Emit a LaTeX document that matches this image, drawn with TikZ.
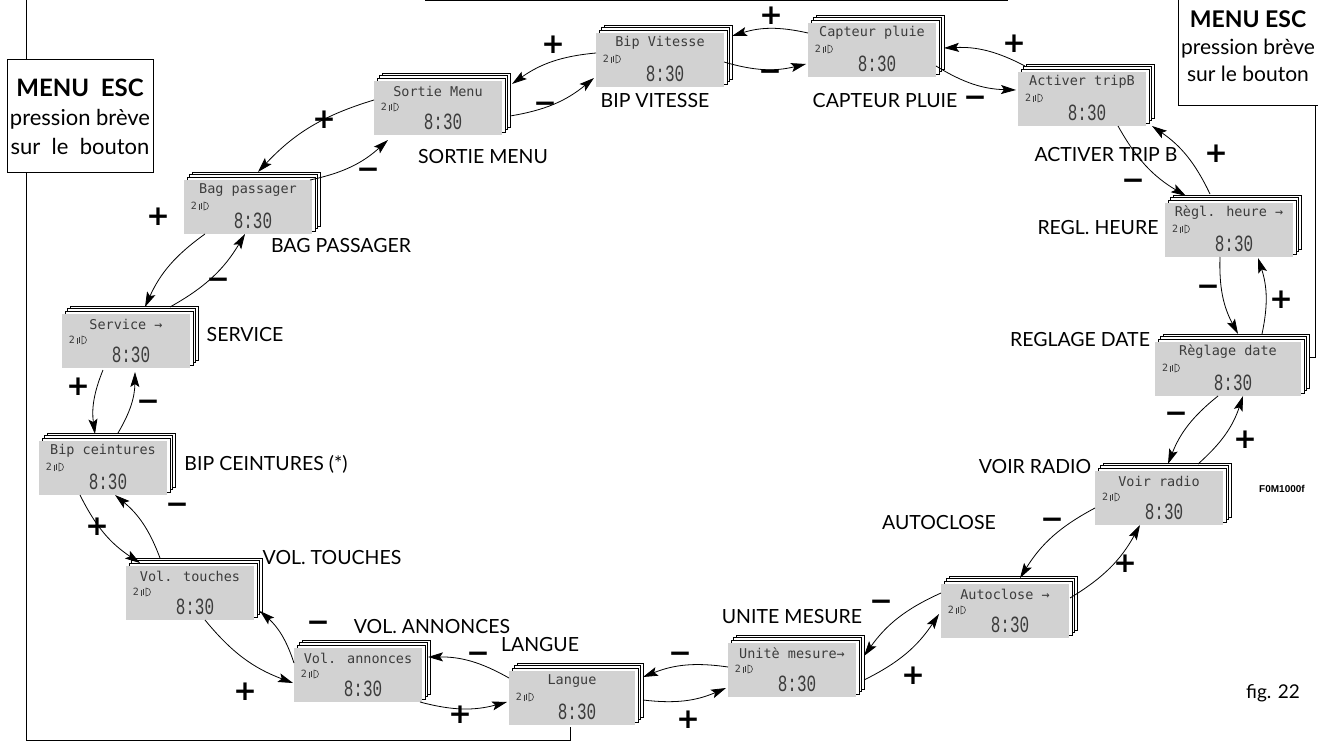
\documentclass[tikz,border=0pt]{standalone}
\usepackage{fontspec}
\setmainfont{Lato}
\newfontfamily\lcdfont{DejaVu Sans Mono}
\newfontfamily\clockfont{Liberation Mono}
\newfontfamily\signfont{DejaVu Sans}
\newfontfamily\codefont{Liberation Sans}
\usetikzlibrary{arrows.meta,calc}
\definecolor{lcdgray}{RGB}{210,210,210}
\definecolor{lcdink}{RGB}{60,60,60}
\tikzset{
  lbl/.style={font=\fontsize{19.5}{22}\selectfont, inner sep=0},
  esc/.style={font=\fontsize{22}{29}\selectfont, inner sep=0},
  sgn/.style={font=\signfont\bfseries\fontsize{28}{28}\selectfont, inner sep=0},
  lcdbox/.style={fill=lcdgray, minimum height=54pt, inner sep=0},
  layer/.style={draw=black, fill=white, line width=0.7pt},
  lcdl/.style={font=\lcdfont\fontsize{13.5}{14}\selectfont, text=lcdink, inner sep=0},
  lcdsm/.style={font=\lcdfont\fontsize{10}{10}\selectfont, text=lcdink, inner sep=0},
  lcdt/.style={font=\clockfont\fontsize{16}{16}\selectfont, text=lcdink, inner sep=0, yscale=1.45, transform shape},
  icon/.style={draw=lcdink, line width=0.6pt},
  arr/.style={-{Stealth[length=15pt,width=9pt,inset=3pt]}, line width=0.8pt},
  frame/.style={line width=1pt},
}
\newcommand\lcdunit[5]{%
  \pgfmathsetmacro\lx{#2-#5/2}%
  \foreach \o in {8,5.5,3}{\draw[layer] ({\lx+\o},{#3-27-\o}) rectangle ({\lx+#5+\o},{#3+27-\o});}
  \node[lcdbox, minimum width=#5pt] (#1) at (#2,#3) {};
  \node[lcdl] (#1-t) at (#2,#3-17) {#4};
  \node[lcdsm] (#1-n) at (\lx+10,#3-1) {2};
  \draw[icon] (\lx+20,#3-5) .. controls (\lx+26,#3-5) and (\lx+26,#3+3) .. (\lx+20,#3+3) -- cycle;
  \draw[icon] (\lx+17,#3-4) -- (\lx+17,#3+2) (\lx+15,#3-3) -- (\lx+15,#3+3);
  \node[lcdt] (#1-c) at (#2+5,#3+14) {8:30};
}
\begin{document}
\begin{tikzpicture}[x=1pt,y=-1pt]
\useasboundingbox (0,0) rectangle (1318,741);
\clip (0,0) rectangle (1318,741);

% frame lines
\draw[frame] (425,1) -- (1008,1);
\node[draw, line width=1pt, minimum width=146pt, minimum height=113pt, inner sep=0] (escL) at (80,116.5) {};
\node[esc, align=center] (escLt) at (80,117) {{\bfseries\fontsize{24}{29}\selectfont MENU\ \ ESC}\\pression brève\\sur\ \ le\ \ bouton};
\coordinate (topL) at (26,0);
\draw[frame] (topL) -- (topL |- escL.north);
\draw[frame] (topL |- escL.south) -- (26,740) -| (570,727);

\draw[frame, fill=white] (1178,-10) rectangle (1330,106);
\node[esc, align=center, font=\fontsize{21}{27}\selectfont] (escRt) at (1248,46) {{\bfseries\fontsize{23}{27}\selectfont MENU ESC}\\pression brève\\sur le bouton};
\draw[frame] (1315,106) -- (1315,357) -- (1309,357);

% displays
\lcdunit{S}{438}{108}{Sortie Menu}{128}
\lcdunit{B}{660}{60}{Bip Vitesse}{128}
\lcdunit{C}{872}{50}{Capteur pluie}{128}
\lcdunit{A}{1082}{99}{Activer tripB}{128}
\lcdunit{H}{1229}{230}{Règl. heure →}{128}
\lcdunit{D}{1228}{369}{Règlage date}{146}
\lcdunit{R}{1159}{498}{Voir radio}{128}
\lcdunit{X}{1005}{611}{Autoclose →}{128}
\lcdunit{U}{792}{670}{Unitè mesure→}{128}
\lcdunit{L}{572}{698}{Langue}{126}
\lcdunit{N}{358}{675}{Vol. annonces}{128}
\lcdunit{T}{190}{593}{Vol. touches}{128}
\lcdunit{I}{103}{468}{Bip ceintures}{128}
\lcdunit{V}{126}{341}{Service →}{128}
\lcdunit{G}{248}{207}{Bag passager}{128}

% labels
\node[lbl] (lS) at (483,157) {SORTIE MENU};
\node[lbl] (lB) at (655,101) {BIP VITESSE};
\node[lbl] (lC) at (885,101) {CAPTEUR PLUIE};
\node[lbl] (lA) at (1106,155) {ACTIVER TRIP B};
\node[lbl] (lH) at (1098,228) {REGL. HEURE};
\node[lbl] (lD) at (1080,340) {REGLAGE DATE};
\node[lbl] (lR) at (1035,467) {VOIR RADIO};
\node[lbl] (lX) at (939,523) {AUTOCLOSE};
\node[lbl] (lU) at (792,617) {UNITE MESURE};
\node[lbl] (lL) at (540,645) {LANGUE};
\node[lbl] (lN) at (432,627) {VOL. ANNONCES};
\node[lbl] (lT) at (332,558) {VOL. TOUCHES};
\node[lbl] (lI) at (266,464) {BIP CEINTURES (*)};
\node[lbl] (lV) at (245,335) {SERVICE};
\node[lbl] (lG) at (341,246) {BAG PASSAGER};

\node[font=\codefont\bfseries\fontsize{10}{10}\selectfont, inner sep=0] (code) at (1282,489) {F0M1000f};
\node[font=\fontsize{19}{20}\selectfont, inner sep=0] (fig) at (1273,693) {fig. 22};

% arrows
\draw[arr] ($(B)+(-64,-7)$) to[bend right=15] ($(S)+(74,-24)$);
\draw[arr] ($(S)+(72,8)$) to[bend right=15] ($(B)+(-66,18)$);
\draw[arr] ($(C)+(-64,-17)$) to[bend right=15] ($(B)+(72,-24)$);
\draw[arr] ($(B)+(64,2)$) to[bend right=15] ($(C)+(-66,14)$);
\draw[arr] ($(A)+(-57,-33)$) to[bend right=15] ($(C)+(72,-2)$);
\draw[arr] ($(C)+(64,16)$) to[bend right=15] ($(A)+(-66,-9)$);
\draw[arr] ($(H)+(-19,-36)$) to[bend right=15] ($(A)+(70,27)$);
\draw[arr] ($(A)+(36,27)$) to[bend right=15] ($(H)+(-43,-34)$);
\draw[arr] ($(H)+(-9,27)$) to[bend right=15] ($(D)+(10,-35)$);
\draw[arr] ($(D)+(34,-35)$) to[bend right=15] ($(H)+(29,28)$);
\draw[arr] ($(D)+(-10,27)$) to[bend right=15] ($(R)+(9,-34)$);
\draw[arr] ($(R)+(39,-34)$) to[bend right=15] ($(D)+(15,27)$);
\draw[arr] ($(R)+(-64,10)$) to[bend right=15] ($(X)+(15,-33)$);
\draw[arr] ($(X)+(65,-13)$) to[bend right=15] ($(R)+(-19,27)$);
\draw[arr] ($(X)+(-64,-18)$) to[bend right=15] ($(U)+(72,-14)$);
\draw[arr] ($(U)+(72,10)$) to[bend right=15] ($(X)+(-66,3)$);
\draw[arr] ($(U)+(-64,-3)$) to[bend right=15] ($(L)+(71,-21)$);
\draw[arr] ($(L)+(71,2)$) to[bend right=15] ($(U)+(-66,18)$);
\draw[arr] ($(L)+(-63,-20)$) to[bend right=15] ($(N)+(70,-18)$);
\draw[arr] ($(N)+(62,27)$) to[bend right=15] ($(L)+(-65,4)$);
\draw[arr] ($(N)+(-64,-12)$) to[bend right=15] ($(T)+(70,18)$);
\draw[arr] ($(T)+(15,27)$) to[bend right=15] ($(N)+(-65,8)$);
\draw[arr] ($(T)+(-30,-35)$) to[bend right=15] ($(I)+(12,27)$);
\draw[arr] ($(I)+(-23,27)$) to[bend right=15] ($(T)+(-50,-30)$);
\draw[arr] ($(I)+(15,-35)$) to[bend right=15] ($(V)+(9,31)$);
\draw[arr] ($(V)+(-23,29)$) to[bend right=15] ($(I)+(-8,-34)$);
\draw[arr] ($(V)+(44,-34)$) to[bend right=15] ($(G)+(-3,27)$);
\draw[arr] ($(G)+(-43,27)$) to[bend right=15] ($(V)+(19,-34)$);
\draw[arr] ($(G)+(62,-27)$) to[bend right=15] ($(S)+(-50,32)$);
\draw[arr] ($(S)+(-64,-8)$) to[bend right=15] ($(G)+(10,-35)$);

% signs
\node[sgn] (p1) at (553,45) {+};   \node[sgn] (m1) at (545,107) {−};
\node[sgn] (p2) at (771,16) {+};   \node[sgn] (m2) at (770,75) {−};
\node[sgn] (p3) at (1014,44) {+};  \node[sgn] (m3) at (975,101) {−};
\node[sgn] (p4) at (1216,154) {+}; \node[sgn] (m4) at (1133,184) {−};
\node[sgn] (p5) at (1281,300) {+}; \node[sgn] (m5) at (1208,290) {−};
\node[sgn] (p6) at (1245,440) {+}; \node[sgn] (m6) at (1176,417) {−};
\node[sgn] (p7) at (1125,564) {+}; \node[sgn] (m7) at (1052,523) {−};
\node[sgn] (p8) at (913,676) {+};  \node[sgn] (m8) at (881,605) {−};
\node[sgn] (p9) at (688,720) {+};  \node[sgn] (m9) at (680,657) {−};
\node[sgn] (p10) at (460,715) {+}; \node[sgn] (m10) at (478,657) {−};
\node[sgn] (p11) at (245,692) {+}; \node[sgn] (m11) at (318,626) {−};
\node[sgn] (p12) at (97,527) {+};  \node[sgn] (m12) at (177,508) {−};
\node[sgn] (p13) at (78,387) {+};  \node[sgn] (m13) at (148,405) {−};
\node[sgn] (p14) at (158,217) {+}; \node[sgn] (m14) at (218,283) {−};
\node[sgn] (p15) at (324,120) {+}; \node[sgn] (m15) at (368,173) {−};
\end{tikzpicture}
\end{document}
